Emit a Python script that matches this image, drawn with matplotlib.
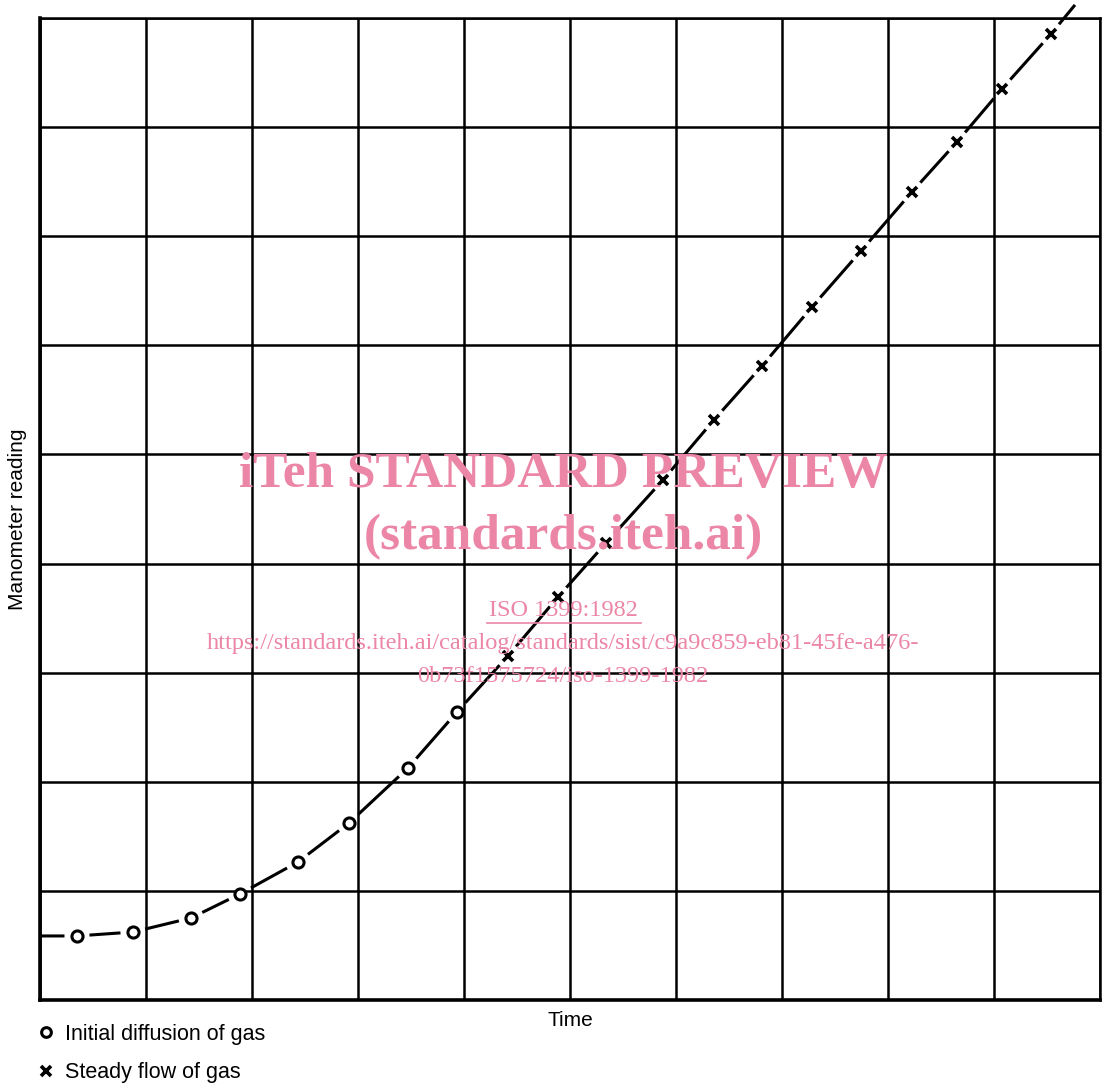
import matplotlib
matplotlib.use("Agg")
import matplotlib.pyplot as plt
from matplotlib.lines import Line2D

plt.rcParams['font.family'] = ['Liberation Sans', 'DejaVu Sans']

# Data (grid units)
diff_x = [0.349, 0.877, 1.425, 1.887, 2.434, 2.915, 3.472, 3.934]
diff_y = [0.587, 0.623, 0.752, 0.972, 1.265, 1.622, 2.127, 2.640]
flow_x = [4.415, 4.887, 5.340, 5.877, 6.358, 6.811, 7.283, 7.745, 8.226, 8.651, 9.075, 9.538]
flow_y = [3.153, 3.694, 4.189, 4.766, 5.316, 5.811, 6.352, 6.865, 7.406, 7.864, 8.350, 8.854]
curve_start = (0.0, 0.587)
curve_end = (9.764, 9.12)
x_ticks = list(range(0, 11))
y_ticks = list(range(0, 10))

W, H = 1105, 1086
fig = plt.figure(figsize=(W / 100, H / 100), dpi=100)
ax = fig.add_axes([40 / W, (H - 1000) / H, 1060 / W, 982 / H])
ax.set_xlim(0, 10)
ax.set_ylim(0, 9)
ax.set_xticks(x_ticks)
ax.set_yticks(y_ticks)
ax.tick_params(length=0, labelbottom=False, labelleft=False)
ax.grid(True, color='black', lw=1.8)
for s in ax.spines.values():
    s.set_linewidth(1.8)
ax.spines['left'].set_linewidth(2.6)
ax.spines['bottom'].set_linewidth(2.6)
ax.set_axisbelow(True)

# curve segments with gaps at markers
pts = [curve_start] + list(zip(diff_x, diff_y)) + list(zip(flow_x, flow_y)) + [curve_end]
n = len(pts)
for i in range(n - 1):
    sa = 0 if i == 0 else 9
    sb = 0 if i == n - 2 else 9
    ax.annotate('', xy=pts[i + 1], xytext=pts[i],
                arrowprops=dict(arrowstyle='-', shrinkA=sa, shrinkB=sb,
                                lw=2.2, color='black', capstyle='butt'),
                annotation_clip=False)

ax.plot(diff_x, diff_y, linestyle='none', marker='o', ms=8, mfc='white',
        mec='black', mew=2.2, zorder=5)
ax.plot(flow_x, flow_y, linestyle='none', marker='x', ms=7, mec='black',
        mew=2.6, zorder=5)

ax.set_xlabel('Time', fontsize=15, labelpad=8)
ax.set_ylabel('Manometer reading', fontsize=15)
ax.yaxis.set_label_coords(-0.0125, 0.49)

handles = [
    Line2D([], [], linestyle='none', marker='o', ms=7, mfc='white', mec='black', mew=2.2),
    Line2D([], [], linestyle='none', marker='x', ms=7, mec='black', mew=2.6),
]
fig.legend(handles, ['Initial diffusion of gas', 'Steady flow of gas'],
           loc='upper left', bbox_to_anchor=(37 / W, 1 - 1024 / H),
           frameon=False, fontsize=15.5, handlelength=0.8, handletextpad=0.5,
           labelspacing=0.8, borderpad=0, borderaxespad=0)

# watermark
pink = '#EC86A6'
serif = ['Liberation Serif', 'DejaVu Serif']
fig.text(563 / W, 1 - 475 / H, 'iTeh STANDARD PREVIEW', color=pink,
         fontsize=37, fontweight='bold', family=serif,
         ha='center', va='center', zorder=10)
fig.text(563 / W, 1 - 537 / H, '(standards.iteh.ai)', color=pink,
         fontsize=37, fontweight='bold', family=serif,
         ha='center', va='center', zorder=10)
fig.text(563 / W, 1 - 610 / H, 'ISO 1399:1982', color=pink,
         fontsize=17.5, family=serif, ha='center', va='center', zorder=10)
fig.add_artist(Line2D([487 / W, 641 / W], [1 - 623 / H, 1 - 623 / H], color=pink, lw=1.2))
fig.text(563 / W, 1 - 643 / H,
         'https://standards.iteh.ai/catalog/standards/sist/c9a9c859-eb81-45fe-a476-',
         color=pink, fontsize=17.6, family=serif, ha='center', va='center', zorder=10)
fig.text(563 / W, 1 - 676 / H, '0b73f1575724/iso-1399-1982', color=pink,
         fontsize=17.6, family=serif, ha='center', va='center', zorder=10)

fig.savefig('out.png', dpi=100)
